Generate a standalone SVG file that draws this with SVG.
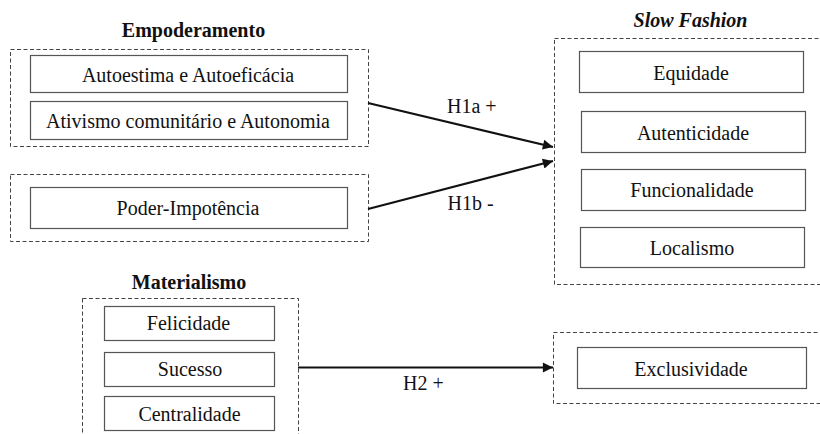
<svg xmlns="http://www.w3.org/2000/svg" width="820" height="434" viewBox="0 0 820 434">
<style>
.grp{fill:none;stroke:#444;stroke-width:1;stroke-dasharray:4 2.5}
.box{fill:#fff;stroke:#555;stroke-width:1.2}
.edge{stroke:#111;stroke-width:2.2;fill:none}
</style>
<defs>
<marker id="arr" viewBox="0 0 10 10" refX="10" refY="5" markerWidth="5.5" markerHeight="4.6" orient="auto" markerUnits="strokeWidth">
<path d="M0,0 L10,5 L0,10 z" fill="#111"/>
</marker>
</defs>
<rect width="820" height="434" fill="#fff"/>

<g font-family="Liberation Serif, Tinos, Times New Roman, serif" font-size="20" fill="#111">
<g id="empoderamento">
<text font-weight="bold" text-anchor="middle" x="193.5" y="37">Empoderamento</text>
<rect class="grp" x="10.5" y="49.5" width="358" height="97"/>
<rect class="box" x="30.5" y="55.5" width="317" height="37"/>
<text text-anchor="middle" x="188" y="82">Autoestima e Autoefic&#225;cia</text>
<rect class="box" x="30.5" y="101.5" width="317" height="38"/>
<text text-anchor="middle" x="188" y="128">Ativismo comunit&#225;rio e Autonomia</text>
</g>

<g id="poder">
<rect class="grp" x="10.5" y="174.5" width="358" height="67"/>
<rect class="box" x="30.5" y="187.5" width="317" height="41"/>
<text text-anchor="middle" x="188" y="215">Poder-Impot&#234;ncia</text>
</g>

<g id="slowfashion">
<text font-weight="bold" font-style="italic" text-anchor="middle" x="690.5" y="27">Slow Fashion</text>
<rect class="grp" x="554.5" y="38.5" width="280" height="246"/>
<rect class="box" x="579.5" y="51.5" width="224" height="41"/>
<text text-anchor="middle" x="691" y="80">Equidade</text>
<rect class="box" x="581.5" y="111.5" width="224" height="41"/>
<text text-anchor="middle" x="693" y="140">Autenticidade</text>
<rect class="box" x="581.5" y="169.5" width="224" height="41"/>
<text text-anchor="middle" x="692" y="197">Funcionalidade</text>
<rect class="box" x="580.5" y="227.5" width="224" height="40"/>
<text text-anchor="middle" x="692" y="255">Localismo</text>
</g>

<g id="materialismo">
<text font-weight="bold" text-anchor="middle" x="189" y="289">Materialismo</text>
<rect class="grp" x="82.5" y="298.5" width="216" height="150"/>
<rect class="box" x="104.5" y="306.5" width="170" height="34"/>
<text text-anchor="middle" x="188.5" y="330">Felicidade</text>
<rect class="box" x="104.5" y="352.5" width="170" height="34"/>
<text text-anchor="middle" x="190" y="375.5">Sucesso</text>
<rect class="box" x="104.5" y="396.5" width="170" height="34"/>
<text text-anchor="middle" x="189.5" y="420.5">Centralidade</text>
</g>

<g id="exclusividade">
<rect class="grp" x="553.5" y="332.5" width="280" height="71"/>
<rect class="box" x="577.5" y="347.5" width="229" height="41"/>
<text text-anchor="middle" x="691" y="375.5">Exclusividade</text>
</g>

<g id="connectors">
<line class="edge" x1="368" y1="103" x2="553" y2="147" marker-end="url(#arr)"/>
<line class="edge" x1="368" y1="209" x2="553" y2="161" marker-end="url(#arr)"/>
<line class="edge" x1="298" y1="367.5" x2="553" y2="367.5" marker-end="url(#arr)"/>
<text x="447" y="113">H1a +</text>
<text x="447.5" y="210">H1b -</text>
<text x="403" y="390">H2 +</text>
</g>
</g>
</svg>
